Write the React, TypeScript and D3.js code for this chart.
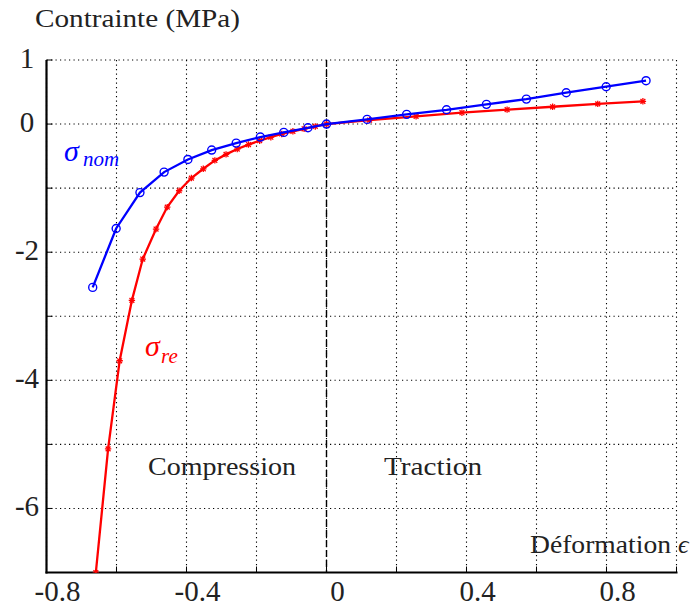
import React from "react";
import * as d3 from "d3";

const nomX = [-0.668, -0.601, -0.533, -0.464, -0.396, -0.328, -0.258, -0.189, -0.122, -0.053, 0, 0.116, 0.229, 0.343, 0.457, 0.571, 0.685, 0.799, 0.913];
const nomY = [-2.55, -1.63, -1.07, -0.75, -0.552, -0.406, -0.297, -0.203, -0.13, -0.058, 0, 0.073, 0.152, 0.223, 0.308, 0.39, 0.489, 0.583, 0.677];

const reX = [-0.659, -0.624, -0.591, -0.556, -0.525, -0.487, -0.455, -0.421, -0.386, -0.352, -0.319, -0.287, -0.255, -0.223, -0.191, -0.159, -0.128, -0.096, -0.064, -0.032, 0, 0.123, 0.256, 0.387, 0.516, 0.646, 0.775, 0.904];
const reY = [-7.0, -5.07, -3.695, -2.752, -2.107, -1.639, -1.296, -1.041, -0.843, -0.698, -0.567, -0.473, -0.39, -0.32, -0.26, -0.205, -0.155, -0.113, -0.074, -0.037, 0, 0.062, 0.12, 0.177, 0.225, 0.27, 0.315, 0.355];

const xGrid = [-0.8, -0.6, -0.4, -0.2, 0, 0.2, 0.4, 0.6, 0.8, 1.0];
const xLabels = ["-0.8", "-0.4", "0", "0.4", "0.8"];
const xLabelVals = [-0.8, -0.4, 0, 0.4, 0.8];
const yGrid = [-7, -6, -5, -4, -3, -2, -1, 0, 1];
const yLabels = ["1", "0", "-2", "-4", "-6"];
const yLabelVals = [1, 0, -2, -4, -6];

const W = 693;
const H = 607;
const L = 46.5, R = 676.5, T = 60, B = 572.5;
const FONT = "'Times New Roman', 'Liberation Serif', 'DejaVu Serif', 'Noto Serif', FreeSerif, Times, serif";

export default function App() {
  const x = d3.scaleLinear().domain([-0.8, 1.0]).range([L, R]);
  const y = d3.scaleLinear().domain([-7, 1]).range([B, T]);
  const line = d3.line<[number, number]>().x((d) => x(d[0])).y((d) => y(d[1]));
  const nom: [number, number][] = nomX.map((v, i) => [v, nomY[i]]);
  const re: [number, number][] = reX.map((v, i) => [v, reY[i]]);

  return (
    <div style={{ position: "absolute", left: 0, top: 0, width: W, height: H, background: "#fff" }}>
      <svg width={W} height={H} style={{ display: "block", fontFamily: FONT }}>
        <defs>
          <clipPath id="plot">
            <rect x={L} y={T - 6} width={R - L + 6} height={B - T + 6} />
          </clipPath>
        </defs>
        {xGrid.map((v) => (
          <line key={"xg" + v} x1={x(v)} x2={x(v)} y1={T} y2={B} stroke="#000" strokeWidth={1.1} strokeDasharray="1.2 3.3" />
        ))}
        {yGrid.map((v) => (
          <line key={"yg" + v} x1={L} x2={R} y1={y(v)} y2={y(v)} stroke="#000" strokeWidth={1.1} strokeDasharray="1.2 3.3" />
        ))}
        {xGrid.map((v) => (
          <line key={"xt" + v} x1={x(v)} x2={x(v)} y1={B} y2={B - 6} stroke="#000" strokeWidth={1} />
        ))}
        {yGrid.map((v) => (
          <line key={"yt" + v} x1={L} x2={L + 6} y1={y(v)} y2={y(v)} stroke="#000" strokeWidth={1} />
        ))}
        <line x1={x(0)} x2={x(0)} y1={T} y2={B} stroke="#000" strokeWidth={1.4} strokeDasharray="7 3" />
        <line x1={L} x2={L} y1={T} y2={B + 1} stroke="#000" strokeWidth={2.2} />
        <line x1={L - 1} x2={R + 1} y1={B} y2={B} stroke="#000" strokeWidth={2.2} />
        <g clipPath="url(#plot)">
          <path d={line(re) || ""} fill="none" stroke="#ff0000" strokeWidth={2.3} />
          {re.map((d, i) => {
            const cx = x(d[0]), cy = y(d[1]), s = 3.2;
            return (
              <g key={"rm" + i} stroke="#ff0000" strokeWidth={1.3}>
                <line x1={cx - s} x2={cx + s} y1={cy} y2={cy} />
                <line x1={cx} x2={cx} y1={cy - s} y2={cy + s} />
                <line x1={cx - s * 0.75} x2={cx + s * 0.75} y1={cy - s * 0.75} y2={cy + s * 0.75} />
                <line x1={cx - s * 0.75} x2={cx + s * 0.75} y1={cy + s * 0.75} y2={cy - s * 0.75} />
              </g>
            );
          })}
          <path d={line(nom) || ""} fill="none" stroke="#0000ff" strokeWidth={2.3} />
          {nom.map((d, i) => (
            <circle key={"bm" + i} cx={x(d[0])} cy={y(d[1])} r={4} fill="none" stroke="#0000ff" strokeWidth={1.4} />
          ))}
        </g>
        {xLabelVals.map((v, i) => (
          <text key={"xl" + v} x={x(v) + 11} y={601} textAnchor="middle" fontFamily={FONT} fontSize={29} fill="#222">
            {xLabels[i]}
          </text>
        ))}
        {yLabelVals.map((v, i) => (
          <text key={"yl" + v} x={27} y={y(v) + 8} textAnchor="middle" fontFamily={FONT} fontSize={29} fill="#222">
            {yLabels[i]}
          </text>
        ))}
        <text x={35} y={27} fontFamily={FONT} fontSize={25} fill="#222" textLength={205} lengthAdjust="spacingAndGlyphs">
          Contrainte (MPa)
        </text>
        <text x={530} y={553} fontFamily={FONT} fontSize={25} fill="#222" textLength={141} lengthAdjust="spacingAndGlyphs">
          Déformation
        </text>
        <text x={678} y={553} fontFamily={FONT} fontSize={26} fontStyle="italic" fill="#222">
          ϵ
        </text>
        <text x={148} y={475} fontFamily={FONT} fontSize={26} fill="#222" textLength={148} lengthAdjust="spacingAndGlyphs">
          Compression
        </text>
        <text x={384} y={475} fontFamily={FONT} fontSize={26} fill="#222" textLength={98} lengthAdjust="spacingAndGlyphs">
          Traction
        </text>
        <text x={64} y={161} fontFamily={FONT} fontSize={30} fontStyle="italic" fill="#0000ff">σ</text>
        <text x={83} y={166} fontFamily={FONT} fontSize={21} fontStyle="italic" fill="#0000ff">nom</text>
        <text x={145} y={356} fontFamily={FONT} fontSize={30} fontStyle="italic" fill="#ff0000">σ</text>
        <text x={161} y={363} fontFamily={FONT} fontSize={21} fontStyle="italic" fill="#ff0000">re</text>
      </svg>
    </div>
  );
}
